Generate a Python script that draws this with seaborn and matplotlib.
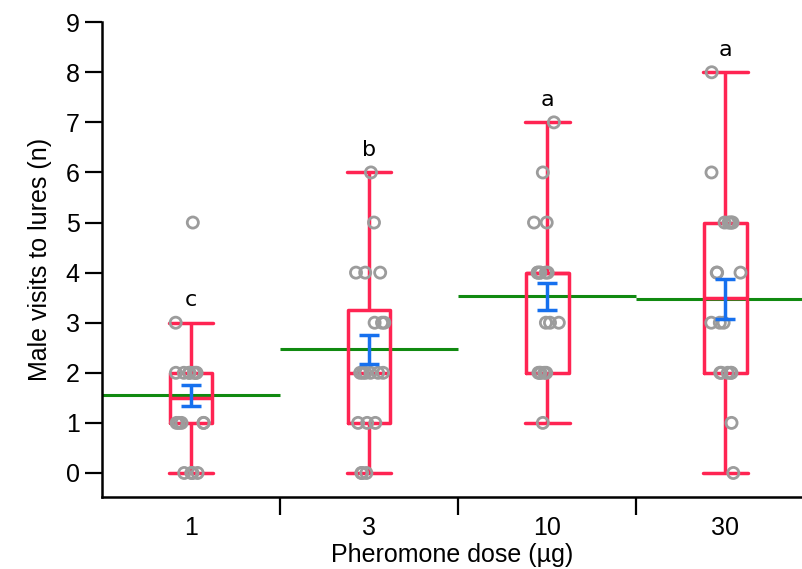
import numpy as np
import pandas as pd
import seaborn as sns
import matplotlib.pyplot as plt
from matplotlib.ticker import FixedLocator

# visit counts per lure (overlapping circles estimated)
dose_labels = ["1", "3", "10", "30"]
visits_1 = [0, 0, 0, 0, 1, 1, 1, 1, 1, 2, 2, 2, 2, 2, 2, 2, 3, 5]
visits_3 = [0, 0, 0, 1, 1, 1, 2, 2, 2, 2, 2, 2, 3, 3, 3, 4, 4, 4, 5, 6]
visits_10 = [1, 2, 2, 2, 2, 2, 3, 3, 3, 4, 4, 4, 4, 4, 4, 5, 5, 6, 7]
visits_30 = [0, 1, 2, 2, 2, 2, 2, 3, 3, 3, 4, 4, 4, 5, 5, 5, 5, 5, 6, 8]

# mean and standard error as drawn (green lines, blue bars)
means = [1.55, 2.47, 3.53, 3.47]
sems = [0.21, 0.29, 0.27, 0.40]

# significance letters
letters = ["c", "b", "a", "a"]

groups = [visits_1, visits_3, visits_10, visits_30]
df = pd.DataFrame({
    "dose": np.repeat(dose_labels, [len(g) for g in groups]),
    "visits": np.concatenate(groups),
})

sns.set_style("ticks")
plt.rcParams["font.family"] = ["Liberation Sans", "DejaVu Sans"]
plt.rcParams["text.color"] = "black"
plt.rcParams["axes.labelcolor"] = "black"
plt.rcParams["xtick.color"] = "black"
plt.rcParams["ytick.color"] = "black"

red = "#ff2452"
blue = "#1670ee"
green = "#118a11"
grey = "#9c9c9c"

fig = plt.figure(figsize=(8.02, 5.69), dpi=100)
ax = fig.add_axes([0.127, 0.1265, 0.873, 0.8345])

# mean lines spanning each category
for i, m in enumerate(means):
    ax.hlines(m, i - 0.5, i + 0.5, color=green, lw=2.2, zorder=1)

sns.boxplot(data=df, x="dose", y="visits", order=dose_labels, ax=ax,
            width=0.24, fill=False, showfliers=False, capwidths=0.25,
            color=red, linewidth=2.5, zorder=2)

n_before = len(ax.collections)
np.random.seed(3)
sns.stripplot(data=df, x="dose", y="visits", order=dose_labels, ax=ax,
              jitter=0.09, size=8, marker="o", color=grey, zorder=3)
for c in ax.collections[n_before:]:
    c.set_facecolor("none")
    c.set_edgecolor(grey)
    c.set_linewidth(2.0)

ax.errorbar(range(len(means)), means, yerr=sems, fmt="none", ecolor=blue,
            elinewidth=2.5, capsize=7.5, capthick=2.5, zorder=4)

# letters sit just above the upper whisker
for i, (g, t) in enumerate(zip(groups, letters)):
    q1, q3 = np.percentile(g, [25, 75])
    top = max(v for v in g if v <= q3 + 1.5 * (q3 - q1))
    ax.text(i, top + 0.45, t, ha="center", va="center", fontsize=16,
            family=["DejaVu Sans"])

ax.set_xlim(-0.5, 3.43)
ax.set_ylim(-0.48, 9.0)
ax.set_yticks(range(10))
ax.xaxis.set_minor_locator(FixedLocator([0.5, 1.5, 2.5]))
ax.tick_params(axis="x", which="major", length=0, labelsize=18, pad=14)
ax.tick_params(axis="x", which="minor", length=13, width=1.6, direction="out")
ax.tick_params(axis="y", length=12, width=1.6, direction="out", labelsize=18, pad=4)
ax.set_xlabel("Pheromone dose (µg)", fontsize=18, labelpad=2)
ax.set_ylabel("Male visits to lures (n)", fontsize=18, labelpad=10)

sns.despine(ax=ax)
for s in ["left", "bottom"]:
    ax.spines[s].set_linewidth(1.8)
    ax.spines[s].set_color("black")
ax.spines["left"].set_bounds(-0.48, 9.0)

fig.savefig("out.png", dpi=100)
